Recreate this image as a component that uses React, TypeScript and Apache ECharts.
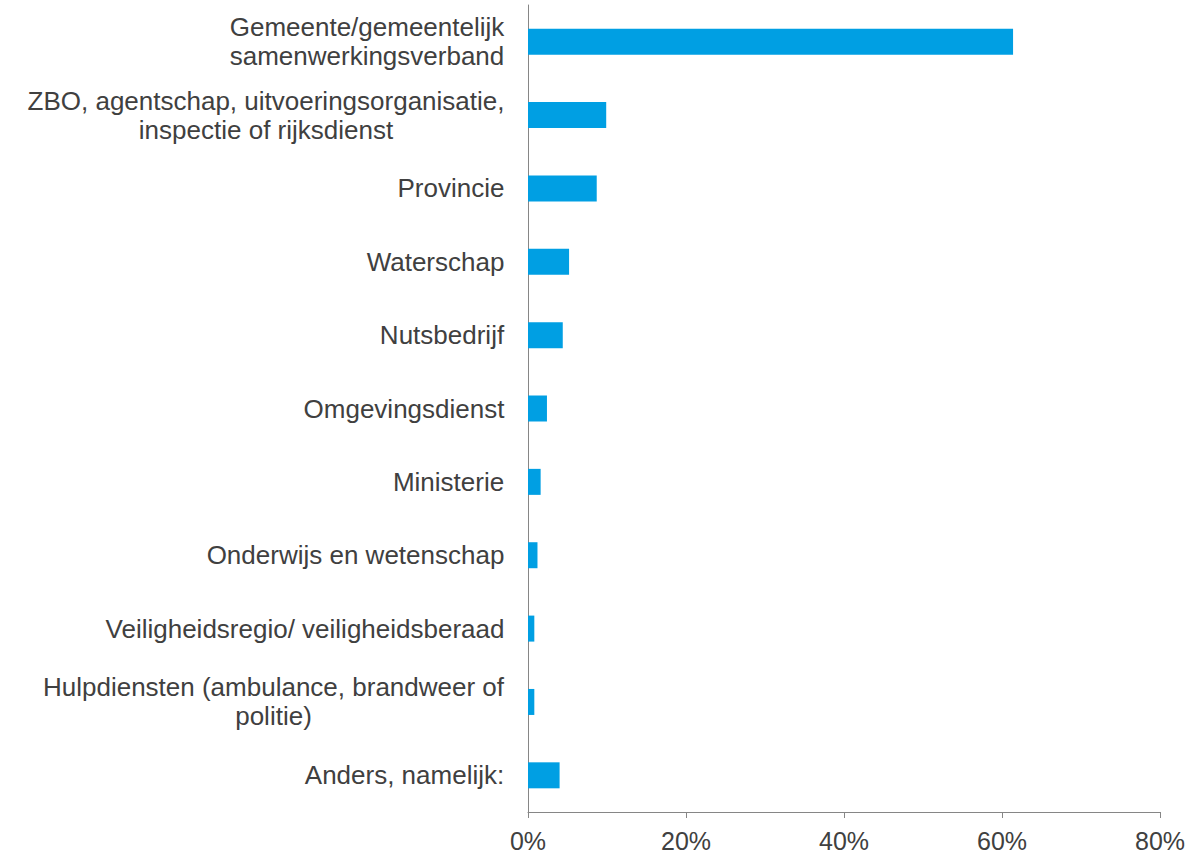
import React, { useEffect, useRef } from "react";
import * as echarts from "echarts";

const categories: string[] = [
  "Gemeente/gemeentelijk\nsamenwerkingsverband",
  "ZBO, agentschap, uitvoeringsorganisatie,\ninspectie of rijksdienst",
  "Provincie",
  "Waterschap",
  "Nutsbedrijf",
  "Omgevingsdienst",
  "Ministerie",
  "Onderwijs en wetenschap",
  "Veiligheidsregio/ veiligheidsberaad",
  "Hulpdiensten (ambulance, brandweer of\npolitie)",
  "Anders, namelijk:",
];

const values: number[] = [61.4, 9.9, 8.7, 5.2, 4.4, 2.4, 1.6, 1.2, 0.8, 0.8, 4.0];

const xTicks: number[] = [0, 20, 40, 60, 80];

const FONT = "'Liberation Sans', Arial, Helvetica, sans-serif";
const LABEL_SIZE = 26;

function measure(text: string): number {
  const c = document.createElement("canvas");
  const ctx = c.getContext("2d");
  if (!ctx) return text.length * LABEL_SIZE * 0.5;
  ctx.font = `${LABEL_SIZE}px ${FONT}`;
  return ctx.measureText(text).width;
}

export default function App() {
  const ref = useRef<HTMLDivElement>(null);
  useEffect(() => {
    if (!ref.current) return;
    const chart = echarts.init(ref.current, undefined, { renderer: "svg" });
    const rich: Record<string, any> = {};
    categories.forEach((c, i) => {
      const w = Math.max(...c.split("\n").map(measure));
      rich["l" + i] = {
        width: Math.ceil(w) + 1,
        align: "center",
        fontSize: LABEL_SIZE,
        lineHeight: 29,
        color: "#404040",
        fontFamily: FONT,
      };
    });
    chart.setOption({
      animation: false,
      grid: { left: 528, right: 31, top: 5, bottom: 44, containLabel: false },
      xAxis: {
        type: "value",
        min: xTicks[0],
        max: xTicks[xTicks.length - 1],
        interval: 20,
        axisLine: { show: true, lineStyle: { color: "#868686", width: 1 } },
        axisTick: { show: true, length: 6, lineStyle: { color: "#868686" } },
        splitLine: { show: false },
        axisLabel: {
          formatter: (v: number) => v + "%",
          fontSize: 25,
          color: "#404040",
          fontFamily: FONT,
          margin: 16,
        },
      },
      yAxis: {
        type: "category",
        inverse: true,
        data: categories,
        axisLine: { show: true, lineStyle: { color: "#868686", width: 1 } },
        axisTick: { show: false },
        axisLabel: {
          margin: 23,
          align: "right",
          fontSize: LABEL_SIZE,
          lineHeight: 29,
          color: "#404040",
          fontFamily: FONT,
          formatter: (v: string, i: number) =>
            v
              .split("\n")
              .map((l) => `{l${i}|${l}}`)
              .join("\n"),
          rich,
        },
      },
      series: [
        {
          type: "bar",
          data: values,
          barWidth: 26,
          itemStyle: { color: "#009FE3" },
        },
      ],
    });
    return () => chart.dispose();
  }, []);
  return (
    <div
      ref={ref}
      style={{ position: "fixed", left: 0, top: 0, width: 1191, height: 856, background: "#fff" }}
    />
  );
}
